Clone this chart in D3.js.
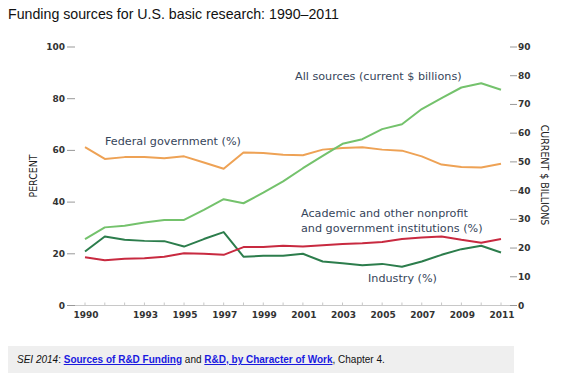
<!DOCTYPE html>
<html>
<head>
<meta charset="utf-8">
<script src="https://cdn.jsdelivr.net/npm/d3@7"></script>
<style>
  body { margin: 0; background: #fff; }
  svg text { font-family: "DejaVu Sans", Verdana, sans-serif; }
</style>
</head>
<body>
<div id="vis"></div>
<script>
const years = d3.range(1990, 2012)
const yearTicks = [1990, 1993, 1995, 1997, 1999, 2001, 2003, 2005, 2007, 2009, 2011]
const pctTicks = [0, 20, 40, 60, 80, 100]
const billionTicks = [0, 10, 20, 30, 40, 50, 60, 70, 80, 90]

// percent of total
const federal = [61.3, 56.7, 57.4, 57.4, 57.0, 57.7, 55.3, 52.9, 59.2, 59.0, 58.3, 58.1, 60.3, 60.9, 61.2, 60.3, 59.9, 57.7, 54.5, 53.6, 53.4, 54.8]
const industry = [20.9, 26.7, 25.4, 25.0, 24.9, 22.8, 25.7, 28.4, 18.9, 19.2, 19.2, 20.0, 17.0, 16.3, 15.6, 16.1, 15.0, 17.0, 19.6, 21.8, 23.1, 20.5]
const academic = [18.7, 17.5, 18.1, 18.3, 18.9, 20.2, 20.0, 19.6, 22.6, 22.6, 23.1, 22.8, 23.3, 23.8, 24.1, 24.6, 25.7, 26.3, 26.7, 25.4, 24.3, 25.7]
// current $ billions
const allSources = [23.1, 27.2, 27.8, 28.9, 29.8, 29.8, 33.3, 37.0, 35.6, 39.3, 43.2, 47.8, 52.1, 56.3, 57.9, 61.4, 63.1, 68.4, 72.2, 75.9, 77.4, 75.1]

const W = 562, H = 377
const svg = d3.select('#vis').append('svg')
    .attr('width', W)
    .attr('height', H)

const x = d3.scaleLinear().domain([1990, 2011]).range([85, 501])
const yPct = d3.scaleLinear().domain([0, 100]).range([305.5, 47])
const yBil = d3.scaleLinear().domain([0, 90]).range([305.5, 47])

// title
svg.append('text')
    .attr('x', 8).attr('y', 19)
    .style('font-family', '"Liberation Sans", Arial, sans-serif')
    .style('font-size', '14.2px')
    .attr('fill', '#111')
    .text('Funding sources for U.S. basic research: 1990–2011')

// baseline + year ticks
svg.append('line')
    .attr('x1', 72).attr('x2', 512)
    .attr('y1', yPct(0)).attr('y2', yPct(0))
    .attr('stroke', '#c8c8c8').attr('stroke-width', 1)

svg.append('g').selectAll('line')
    .data(years)
    .join('line')
    .attr('x1', d => x(d)).attr('x2', d => x(d))
    .attr('y1', yPct(0) - 3).attr('y2', yPct(0))
    .attr('stroke', '#c8c8c8')

svg.append('g').selectAll('text')
    .data(yearTicks)
    .join('text')
    .attr('x', d => x(d) + 1).attr('y', 317.5)
    .attr('text-anchor', 'middle')
    .style('font-size', '9px')
    .style('font-weight', 'bold')
    .attr('fill', '#333')
    .text(d => d)

// left axis
const left = svg.append('g')
left.selectAll('line')
    .data(pctTicks)
    .join('line')
    .attr('x1', 67).attr('x2', 75)
    .attr('y1', d => yPct(d)).attr('y2', d => yPct(d))
    .attr('stroke', '#999')
left.selectAll('text')
    .data(pctTicks)
    .join('text')
    .attr('x', 65).attr('y', d => yPct(d) + 3)
    .attr('text-anchor', 'end')
    .style('font-size', '9px')
    .style('font-weight', 'bold')
    .attr('fill', '#333')
    .text(d => d)

// right axis
const right = svg.append('g')
right.selectAll('line')
    .data(billionTicks)
    .join('line')
    .attr('x1', 510).attr('x2', 517)
    .attr('y1', d => yBil(d)).attr('y2', d => yBil(d))
    .attr('stroke', '#999')
right.selectAll('text')
    .data(billionTicks)
    .join('text')
    .attr('x', 518).attr('y', d => yBil(d) + 3)
    .style('font-size', '9px')
    .style('font-weight', 'bold')
    .attr('fill', '#333')
    .text(d => d)

svg.append('text')
    .attr('transform', 'translate(37,176) rotate(-90)')
    .attr('text-anchor', 'middle')
    .style('font-family', '"DejaVu Sans Condensed", "DejaVu Sans", sans-serif')
    .style('font-size', '10.5px')
    .attr('fill', '#222')
    .text('PERCENT')

svg.append('text')
    .attr('transform', 'translate(541,175) rotate(90)')
    .attr('text-anchor', 'middle')
    .style('font-family', '"DejaVu Sans Condensed", "DejaVu Sans", sans-serif')
    .style('font-size', '10.5px')
    .attr('fill', '#222')
    .text('CURRENT $ BILLIONS')

// lines
const series = [
    {values: federal, scale: yPct, color: '#eea255'},
    {values: allSources, scale: yBil, color: '#74c26c'},
    {values: industry, scale: yPct, color: '#2c7d4c'},
    {values: academic, scale: yPct, color: '#c82a40'}
]

series.forEach(s => {
    svg.append('path')
        .datum(s.values)
        .attr('fill', 'none')
        .attr('stroke', s.color)
        .attr('stroke-width', 2)
        .attr('stroke-linejoin', 'round')
        .attr('d', d3.line()
            .x((d, i) => x(years[i]))
            .y(d => s.scale(d)))
})

// series labels
const labels = [
    {text: ['All sources (current $ billions)'], x: 295, y: 80},
    {text: ['Federal government (%)'], x: 105, y: 145},
    {text: ['Academic and other nonprofit', 'and government institutions (%)'], x: 301, y: 217},
    {text: ['Industry (%)'], x: 368, y: 282}
]
labels.forEach(l => {
    const t = svg.append('text')
        .attr('x', l.x).attr('y', l.y)
        .style('font-size', '11.2px')
        .attr('fill', '#36455a')
    l.text.forEach((line, i) => {
        t.append('tspan')
            .attr('x', l.x)
            .attr('dy', i === 0 ? 0 : 15)
            .text(line)
    })
})

// source note
svg.append('rect')
    .attr('x', 8).attr('y', 346)
    .attr('width', 506).attr('height', 27)
    .attr('fill', '#efefef')

const note = svg.append('text')
    .attr('x', 17).attr('y', 363)
    .style('font-family', '"Liberation Sans", Arial, sans-serif')
    .style('font-size', '10px')
    .attr('fill', '#111')
note.append('tspan').style('font-style', 'italic').text('SEI 2014')
note.append('tspan').text(': ')
note.append('tspan').attr('fill', '#1a1adf').style('font-weight', 'bold')
    .style('text-decoration', 'underline').text('Sources of R&D Funding')
note.append('tspan').text(' and ')
note.append('tspan').attr('fill', '#1a1adf').style('font-weight', 'bold')
    .style('text-decoration', 'underline').text('R&D, by Character of Work')
note.append('tspan').text(', Chapter 4.')
</script>
</body>
</html>
